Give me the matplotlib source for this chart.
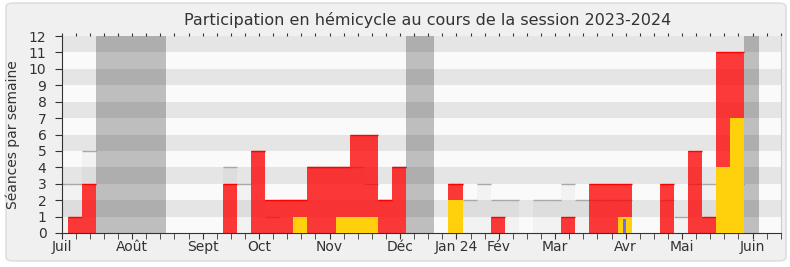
import matplotlib.pyplot as plt
import numpy as np
from matplotlib.patches import FancyBboxPatch

# semaines de la session : -1 = semaine partielle au bord gauche, puis 0..50
semaines = np.arange(-1, 51)

# séances en hémicycle par semaine (rouge)
presences = [0, 1, 3, 0, 0, 0, 0, 0, 0, 0, 0, 0, 3, 0, 5, 2, 2, 2, 4, 4, 4, 6, 6, 2, 4, 0,
             0, 0, 3, 0, 0, 1, 0, 0, 0, 0, 1, 0, 3, 3, 3, 0, 0, 3, 0, 5, 1, 11, 11, 0, 0, 0]
# interventions (jaune)
interventions = [0, 0, 0, 0, 0, 0, 0, 0, 0, 0, 0, 0, 0, 0, 0, 0, 0, 1, 0, 0, 1, 1, 1, 0, 0, 0,
                 0, 0, 2, 0, 0, 0, 0, 0, 0, 0, 0, 0, 0, 0, 1, 0, 0, 0, 0, 0, 0, 4, 7, 0, 0, 0]
# questions orales (bleu)
questions = [0] * 40 + [0.85] + [0] * 11
# médiane des députés (gris)
mediane = [3, 3, 5, 0, 0, 0, 0, 0, 0, 0, 0, 0, 4, 3, 5, 1, 2, 2, 4, 4, 4, 4, 3, 2, 4, 0,
           0, 0, 3, 2, 3, 2, 2, 0, 2, 2, 3, 2, 2, 2, 2, 0, 0, 2, 1, 3, 3, 3, 3, 0, 0, 0]
# semaines de vacances parlementaires
vacances = [2, 3, 4, 5, 6, 24, 25, 48]

mois = ['Juil', 'Août', 'Sept', 'Oct', 'Nov', 'Déc', 'Jan 24', 'Fév', 'Mar', 'Avr', 'Mai', 'Juin']
mois_pos = [0, 5, 10, 14, 19, 24, 28, 31, 35, 40, 44, 49]


def tracer():
    fig = plt.figure(figsize=(7.9, 2.67), dpi=100, facecolor='white')

    # cadre arrondi du fond
    fond = FancyBboxPatch((6 / 790, 6 / 267), 780 / 790, 258 / 267,
                          boxstyle='round,pad=0,rounding_size=0.012',
                          transform=fig.transFigure, facecolor='#f0f0f0',
                          edgecolor='#dadada', linewidth=1, zorder=-10)
    fig.patches.append(fond)

    ax = fig.add_axes([61.7 / 790, 1 - 233 / 267, (780.7 - 61.7) / 790, (233 - 36) / 267])
    ax.set_xlim(0, 51)
    ax.set_ylim(0, 12)

    # bandes horizontales
    for v in range(12):
        ax.axhspan(v, v + 1, color='#e5e5e5' if v % 2 else '#fafafa', lw=0, zorder=0)

    x = semaines + 0.93
    pres = np.array(presences)
    med = np.array(mediane)

    # médiane
    ax.bar(x, med, width=1, color='black', alpha=0.03, lw=0, zorder=1)
    m = med > 0
    ax.hlines(med[m], x[m] - 0.5, x[m] + 0.5, color='#a8a8a8', lw=1, zorder=1.5)

    # présences
    ax.bar(x, pres, width=1, color='#ff0000', alpha=0.77, lw=0, zorder=2)
    p = pres > 0
    ax.hlines(pres[p], x[p] - 0.5, x[p] + 0.5, color='#ff0000', lw=1, zorder=2.5)

    ax.bar(x, interventions, width=1, color='#ffd10c', lw=0, zorder=3)
    ax.bar(x, questions, width=0.26, color='#6b6bff', lw=0, zorder=4)

    # vacances
    for s in vacances:
        ax.axvspan(s + 0.43, s + 1.43, color='black', alpha=0.24, lw=0, zorder=5)

    # axes
    ax.spines['top'].set_visible(False)
    ax.spines['right'].set_color('#cccccc')
    ax.spines['left'].set_color('#333333')
    ax.spines['bottom'].set_color('#333333')
    ax.set_yticks(range(13))
    ax.set_xticks(mois_pos)
    ax.set_xticklabels(mois)
    ax.set_xticks(range(52), minor=True)
    ax.tick_params(which='both', axis='x', length=4, color='#333333', labelsize=10,
                   labelcolor='#333333', pad=1)
    ax.tick_params(axis='y', length=5, color='#333333', labelsize=10, labelcolor='#333333', pad=6)

    haut = ax.secondary_xaxis('top')
    haut.set_xticks(range(52))
    haut.set_xticklabels([])
    haut.tick_params(length=2, color='#333333')
    haut.spines['top'].set_visible(False)

    ax.set_ylabel('Séances par semaine', fontsize=10, color='#333333', labelpad=6)
    fig.text(428 / 790, 1 - 20 / 267, 'Participation en hémicycle au cours de la session 2023-2024',
             ha='center', va='center', fontsize=11.5, color='#333333')

    fig.savefig('out.png', dpi=100, facecolor=fig.get_facecolor())


if __name__ == '__main__':
    tracer()
